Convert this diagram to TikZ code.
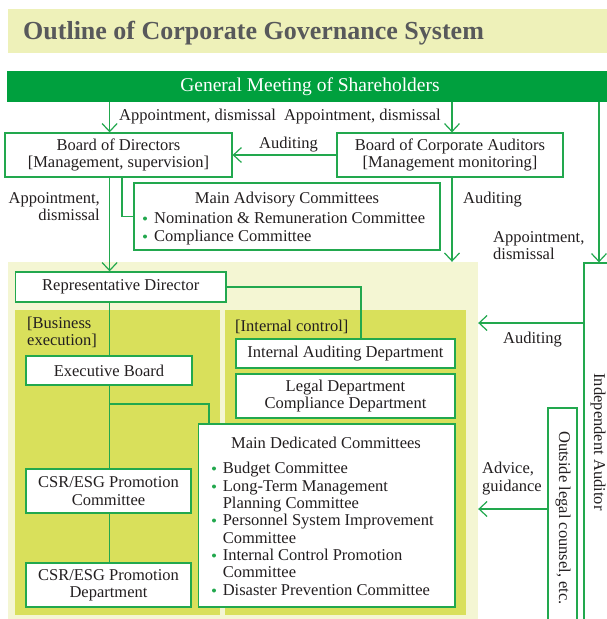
\documentclass[tikz,border=0pt]{standalone}
\usepackage{fontspec}
\setmainfont{Liberation Serif}
\usetikzlibrary{arrows.meta}
\definecolor{gline}{HTML}{22A84E}
\definecolor{gbar}{HTML}{00A03E}
\definecolor{band}{HTML}{EEF1B9}
\definecolor{pale}{HTML}{F4F6D3}
\definecolor{panel}{HTML}{D9E05B}
\definecolor{titlegray}{HTML}{58595B}
\definecolor{ink}{HTML}{231F20}
\newcommand\myfont{\fontsize{16.5}{17.3}\selectfont}
\begin{document}
\begin{tikzpicture}[x=1pt,y=-1pt,
  box/.style={draw=gline, line width=1.2pt, fill=white, inner sep=0pt, align=center, font=\myfont, text=ink},
  arr/.style={draw=gline, line width=1.2pt, -{Straight Barb[length=8pt,width=15pt]}},
  ln/.style={draw=gline, line width=1.2pt},
  lbl/.style={inner sep=0pt, font=\myfont, text=ink},
  dot/.style={fill=gline}]
\useasboundingbox (0,0) rectangle (607,619);
\clip (0,0) rectangle (607,619);
\fill[white] (0,0) rectangle (607,619);
% title band
\fill[band] (8,9) rectangle (620,53);
\node[inner sep=0pt, anchor=base west, text=titlegray, font=\fontsize{26}{28}\selectfont\bfseries] (title) at (23,39.5) {Outline of Corporate Governance System};
% shareholders bar
\node[fill=gbar, inner sep=0pt, minimum width=606pt, minimum height=31pt, text=white, font=\fontsize{19.5}{22}\selectfont] (bar) at (310,86.5) {General Meeting of Shareholders};
% pale zone and panels
\node[fill=pale, inner sep=0pt, minimum width=470pt, minimum height=370pt] (zone) at (243,447) {};
\node[fill=panel, inner sep=0pt, minimum width=205pt, minimum height=305pt] (lpanel) at (117.5,462.5) {};
\node[fill=panel, inner sep=0pt, minimum width=241pt, minimum height=305pt] (rpanel) at (345.5,462.5) {};
% boxes
\node[box, minimum width=227pt, minimum height=44pt] (bod) at (118.5,155) {Board of Directors\\{}[Management, supervision]};
\node[box, minimum width=226pt, minimum height=44pt] (bca) at (450,155) {Board of Corporate Auditors\\{}[Management monitoring]};
\node[box, minimum width=306pt, minimum height=67pt] (mac) at (287,216.5) {};
\node[box, minimum width=210.5pt, minimum height=30pt] (rd) at (120.75,287) {Representative Director};
\node[box, minimum width=166pt, minimum height=29pt] (eb) at (109,370.5) {Executive Board};
\node[box, minimum width=165pt, minimum height=44pt] (csrc) at (108.5,491) {CSR/ESG Promotion\\Committee};
\node[box, minimum width=165pt, minimum height=44pt] (csrd) at (108.5,585) {CSR/ESG Promotion\\Department};
\node[box, minimum width=219pt, minimum height=29pt] (iad) at (345.5,353.5) {Internal Auditing Department};
\node[box, minimum width=219pt, minimum height=44pt] (ld) at (345.5,396) {Legal Department\\Compliance Department};
\node[box, minimum width=256.4pt, minimum height=183pt] (mdc) at (326.8,515.5) {};
\node[box, minimum width=45pt, minimum height=380pt] (ia) at (606.5,453) {};
\node[box, minimum width=29pt, minimum height=240pt] (olc) at (562.5,528) {};
\node[lbl, rotate=-90] (iatext) at (598,442) {Independent Auditor};
\node[lbl, rotate=-90] (olctext) at (563,518) {Outside legal counsel, etc.};
% advisory committee text
\node[lbl, anchor=base] (mact) at (287,203) {Main Advisory Committees};
\fill[dot] (145,218.5) circle (2pt);
\node[lbl, anchor=base west] (mac1) at (154,223) {Nomination \& Remuneration Committee};
\fill[dot] (145,236.5) circle (2pt);
\node[lbl, anchor=base west] (mac2) at (154,241) {Compliance Committee};
% dedicated committees text
\node[lbl, anchor=base] (mdct) at (326,448) {Main Dedicated Committees};
\foreach \y in {473,491,525,560,595} {\fill[dot] (214,\y-4.5) circle (2pt);}
\node[lbl, anchor=base west] (md1) at (222.6,473) {Budget Committee};
\node[lbl, anchor=base west] (md2) at (222.6,491) {Long-Term Management};
\node[lbl, anchor=base west] (md3) at (222.6,508) {Planning Committee};
\node[lbl, anchor=base west] (md4) at (222.6,525) {Personnel System Improvement};
\node[lbl, anchor=base west] (md5) at (222.6,543) {Committee};
\node[lbl, anchor=base west] (md6) at (222.6,560) {Internal Control Promotion};
\node[lbl, anchor=base west] (md7) at (222.6,577) {Committee};
\node[lbl, anchor=base west] (md8) at (222.6,595) {Disaster Prevention Committee};
% panel labels
\node[lbl, anchor=base west] (be1) at (27,328) {[Business};
\node[lbl, anchor=base west] (be2) at (27,345) {execution]};
\node[lbl, anchor=base west] (ic) at (235,331) {[Internal control]};
% coordinates
\coordinate (x1) at (109.6,0);
\coordinate (x2) at (452,0);
\coordinate (x3) at (122,0);
\coordinate (x4) at (599,0);
\coordinate (x5) at (361,0);
\coordinate (x6) at (209,0);
\coordinate (br) at (109.6,404);
\coordinate (y1) at (0,323);
\coordinate (y2) at (0,509);
% connectors
\draw[arr] (bar.south -| x1) -- (bod.north -| x1);
\draw[arr] (bar.south -| x2) -- (bca.north -| x2);
\draw[arr] (bca.west) -- (bod.east);
\draw[arr] (bod.south -| x1) -- (rd.north -| x1);
\draw[ln] (bod.south -| x3) |- (mac.west);
\draw[arr] (bca.south -| x2) -- (zone.north -| x2);
\draw[arr] (bar.south -| x4) -- (ia.north -| x4);
\draw[ln] (rd.east) -| (iad.north -| x5);
\draw[ln] (rd.south -| x1) -- (eb.north -| x1);
\draw[ln] (eb.south -| x1) -- (csrc.north -| x1);
\draw[ln] (br) -| (mdc.north -| x6);
\draw[ln] (csrc.south -| x1) -- (csrd.north -| x1);
\draw[arr] (ia.west |- y1) -- (zone.east |- y1);
\draw[arr] (olc.west |- y2) -- (zone.east |- y2);
% labels
\node[lbl, anchor=base west] (l1) at (119,120) {Appointment, dismissal};
\node[lbl, anchor=base east] (l2) at (441,120) {Appointment, dismissal};
\node[lbl, anchor=base west] (l3) at (259,148) {Auditing};
\node[lbl, anchor=base east] (l4a) at (100,203) {Appointment,};
\node[lbl, anchor=base east] (l4b) at (100,220) {dismissal};
\node[lbl, anchor=base west] (l5) at (463,203) {Auditing};
\node[lbl, anchor=base west] (l6a) at (493,242) {Appointment,};
\node[lbl, anchor=base west] (l6b) at (493,259) {dismissal};
\node[lbl, anchor=base west] (l7) at (503,343) {Auditing};
\node[lbl, anchor=base west] (l8a) at (482,473) {Advice,};
\node[lbl, anchor=base west] (l8b) at (482,491) {guidance};
\end{tikzpicture}
\end{document}
